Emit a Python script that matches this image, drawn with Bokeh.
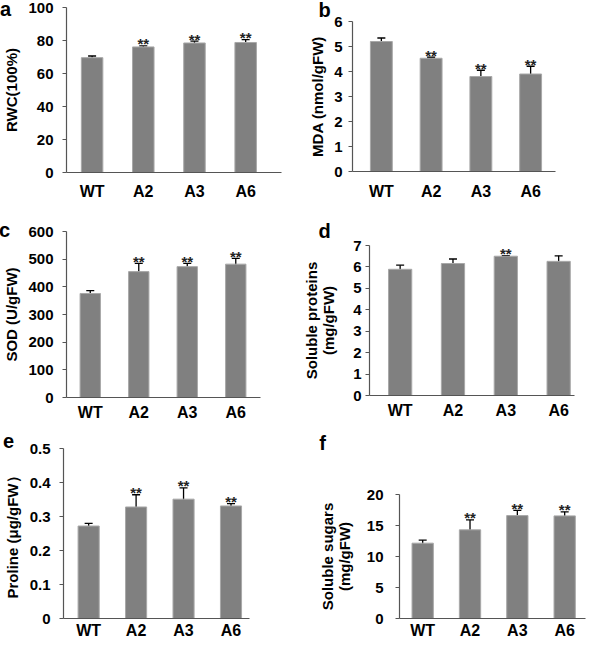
from bokeh.plotting import figure
from bokeh.models import Range1d, FixedTicker, ColumnDataSource, Whisker, TeeHead, Label
from bokeh.layouts import column, row
from bokeh.core.properties import value
from bokeh.embed import file_html
from bokeh.resources import INLINE

# ---------------- data ----------------
categories = ["WT", "A2", "A3", "A6"]

rwc = [69.6, 76.1, 78.5, 78.8]
rwc_err = [1.0, 0.6, 1.1, 1.7]
rwc_sig = ["", "**", "**", "**"]

mda = [5.2, 4.53, 3.8, 3.9]
mda_err = [0.14, 0.04, 0.25, 0.31]
mda_sig = ["", "**", "**", "**"]

sod = [376, 455, 473, 482]
sod_err = [10, 30, 12, 21]
sod_sig = ["", "**", "**", "**"]

protein = [5.89, 6.16, 6.5, 6.26]
protein_err = [0.19, 0.21, 0.03, 0.26]
protein_sig = ["", "", "**", ""]

proline = [0.272, 0.328, 0.351, 0.331]
proline_err = [0.008, 0.036, 0.033, 0.007]
proline_sig = ["", "**", "**", "**"]

sugar = [12.15, 14.3, 16.6, 16.55]
sugar_err = [0.5, 1.6, 0.85, 0.65]
sugar_sig = ["", "**", "**", "**"]

FONT = "Liberation Sans"
AXIS_COLOR = "#555555"
BAR_FILL = "#808080"


def panel(letter, vals, errs, sig, yticks, ylabel, cfg):
    w, h = cfg["size"]
    bl, br, bt, bb = cfg["borders"]
    p = figure(width=w, height=h, output_backend="svg", toolbar_location=None,
               x_range=Range1d(*cfg["xr"]), y_range=Range1d(yticks[0], yticks[-1]),
               min_border_left=bl, min_border_right=br, min_border_top=bt,
               min_border_bottom=bb, outline_line_color=None,
               background_fill_color="white", border_fill_color="white")
    p.grid.visible = False
    xs = list(range(len(categories)))
    src = ColumnDataSource(dict(
        x=xs, top=vals,
        upper=[v + e for v, e in zip(vals, errs)],
        lower=[v - e for v, e in zip(vals, errs)],
        sig=sig))
    p.vbar(x="x", top="top", bottom=0, width=cfg["bw"], source=src,
           fill_color=BAR_FILL, line_color="#a8a8a8", line_width=1)
    wh = Whisker(base="x", upper="upper", lower="lower", source=src,
                 line_color="black", line_width=1.3,
                 upper_head=TeeHead(size=8, line_color="black", line_width=1.3),
                 lower_head=TeeHead(size=8, line_color="black", line_width=1.3))
    p.add_layout(wh)
    p.text(x="x", y="upper", text="sig", source=src, text_align="center",
           text_baseline="alphabetic", y_offset=-2,
           text_font=value(FONT), text_font_style="bold",
           text_font_size="15px", text_color="#222222")

    # x axis
    p.xaxis.ticker = FixedTicker(ticks=xs)
    p.xaxis.major_label_overrides = {i: c for i, c in enumerate(categories)}
    p.xaxis.major_tick_line_color = None
    p.xaxis.major_tick_out = 0
    p.xaxis.major_tick_in = 0
    p.xaxis.minor_tick_line_color = None
    p.xaxis.minor_tick_out = 0
    p.xaxis.axis_line_color = AXIS_COLOR
    p.xaxis.axis_line_width = 1.2
    p.xaxis.major_label_standoff = cfg["xstand"]
    p.xaxis.major_label_text_font = FONT
    p.xaxis.major_label_text_font_style = "bold"
    p.xaxis.major_label_text_font_size = "16px"
    p.xaxis.major_label_text_color = "black"

    # y axis
    p.yaxis.ticker = FixedTicker(ticks=yticks)
    p.yaxis.major_label_overrides = {t: cfg["fmt"](t) for t in yticks}
    p.yaxis.minor_tick_line_color = None
    p.yaxis.minor_tick_out = 0
    p.yaxis.major_tick_in = 0
    p.yaxis.major_tick_out = 4
    p.yaxis.major_tick_line_color = AXIS_COLOR
    p.yaxis.axis_line_color = AXIS_COLOR
    p.yaxis.axis_line_width = 1.2
    p.yaxis.major_label_standoff = cfg["ystand"]
    p.yaxis.major_label_text_font = FONT
    p.yaxis.major_label_text_font_style = "bold"
    p.yaxis.major_label_text_font_size = "15px"
    p.yaxis.major_label_text_color = "black"
    p.yaxis.axis_label = ylabel
    p.yaxis.axis_label_text_font = FONT
    p.yaxis.axis_label_text_font_style = "bold"
    p.yaxis.axis_label_text_font_size = "15px"
    p.yaxis.axis_label_text_color = "black"
    p.yaxis.axis_label_standoff = cfg["lstand"]
    p.yaxis.axis_label_text_line_height = 1.0

    lx, ly = cfg["letter"]
    p.add_layout(Label(x=lx, y=ly, x_units="screen", y_units="screen", text=letter,
                       text_font=FONT, text_font_style="bold", text_font_size="20px",
                       text_align="center", text_baseline="alphabetic",
                       text_color="black"), "right")
    return column(p)


def f_int(t):
    return str(int(t))


def f_dec(t):
    return "0" if t == 0 else f"{t:.1f}"


# letter positions: (x from frame right, y up from frame bottom), screen px
pa = panel("a", rwc, rwc_err, rwc_sig, [0, 20, 40, 60, 80, 100], "RWC(100%)",
           dict(size=(292, 207), borders=(60, 10, 7, 35), xr=(-0.5, 3.7), bw=0.42,
                fmt=f_int, letter=(-276, 164), xstand=10, ystand=9, lstand=5))
pb = panel("b", mda, mda_err, mda_sig, [0, 1, 2, 3, 4, 5, 6], "MDA (nmol/gFW)",
           dict(size=(300, 207), borders=(60, 37, 21, 36), xr=(-0.58, 3.5), bw=0.44,
                fmt=f_int, letter=(-231, 162), xstand=11, ystand=6, lstand=5))
pc = panel("c", sod, sod_err, sod_sig, [0, 100, 200, 300, 400, 500, 600], "SOD (U/gFW)",
           dict(size=(292, 220), borders=(60, 32, 24, 30), xr=(-0.49, 3.51), bw=0.42,
                fmt=f_int, letter=(-256, 168), xstand=6, ystand=9, lstand=5))
pd_ = panel("d", protein, protein_err, protein_sig, [0, 1, 2, 3, 4, 5, 6, 7],
            "Soluble proteins\n(mg/gFW)",
            dict(size=(300, 220), borders=(77, 18, 38, 32), xr=(-0.58, 3.3), bw=0.44,
                 fmt=f_int, letter=(-250, 165), xstand=6, ystand=4, lstand=13))
pe = panel("e", proline, proline_err, proline_sig, [0, 0.1, 0.2, 0.3, 0.4, 0.5],
           "Proline (μg/gFW）",
           dict(size=(292, 214), borders=(60, 43, 21, 21), xr=(-0.53, 3.39), bw=0.445,
                fmt=f_dec, letter=(-241, 178), xstand=3, ystand=9, lstand=6))
pf = panel("f", sugar, sugar_err, sugar_sig, [0, 5, 10, 15, 20],
           "Soluble sugars\n(mg/gFW)",
           dict(size=(300, 214), borders=(107, 5, 67, 21), xr=(-0.49, 3.44), bw=0.45,
                fmt=f_int, letter=(-263, 176), xstand=3, ystand=12, lstand=11))

layout = column(row(pa, pb), row(pc, pd_), row(pe, pf))
open("out.html", "w").write(file_html(layout, INLINE))
